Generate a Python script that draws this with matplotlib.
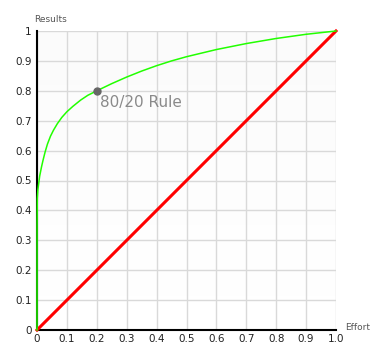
import matplotlib
matplotlib.use("Agg")
import matplotlib.pyplot as plt
import numpy as np

# green curve
effort = [0, 0.0002, 0.001, 0.003, 0.009, 0.015, 0.02, 0.027, 0.035, 0.045, 0.055,
          0.068, 0.083, 0.1, 0.12, 0.146, 0.17, 0.2, 0.25, 0.3, 0.35, 0.4, 0.45,
          0.5, 0.6, 0.7, 0.8, 0.9, 1.0]
results = [0, 0.35, 0.44, 0.47, 0.515, 0.545, 0.567, 0.595, 0.622, 0.648, 0.668,
           0.69, 0.711, 0.73, 0.748, 0.769, 0.785, 0.80, 0.824, 0.846, 0.866, 0.884, 0.90,
           0.914, 0.938, 0.958, 0.975, 0.989, 1.0]
# red diagonal
line_x = [0, 1.0]
line_y = [0, 1.0]
rule_x, rule_y = 0.2, 0.8

x_ticks = [0, 0.1, 0.2, 0.3, 0.4, 0.5, 0.6, 0.7, 0.8, 0.9, 1.0]
x_labels = ["0", "0.1", "0.2", "0.3", "0.4", "0.5", "0.6", "0.7", "0.8", "0.9", "1.0"]
y_ticks = [0, 0.1, 0.2, 0.3, 0.4, 0.5, 0.6, 0.7, 0.8, 0.9, 1.0]
y_labels = ["0", "0.1", "0.2", "0.3", "0.4", "0.5", "0.6", "0.7", "0.8", "0.9", "1"]

fig = plt.figure(figsize=(3.78, 3.64), dpi=100)
ax = fig.add_axes([37 / 378, 34 / 364, 299 / 378, 299 / 364])
ax.set_xlim(0, 1)
ax.set_ylim(0, 1)

# background gradient, light gray at top to white at bottom
grad = np.linspace(1.0, 0.0, 256).reshape(-1, 1)
ax.imshow(grad, extent=[0, 1, 0, 1], aspect="auto", cmap="Greys",
          vmin=0, vmax=30, origin="upper", zorder=0)

ax.set_xticks(x_ticks)
ax.set_xticklabels(x_labels)
ax.set_yticks(y_ticks)
ax.set_yticklabels(y_labels)
ax.tick_params(length=0, labelsize=7.5, colors="#222222")
ax.tick_params(axis="x", pad=3)
ax.tick_params(axis="y", pad=4)
ax.grid(True, color="#d9d9d9", linewidth=1)
ax.set_axisbelow(True)

for s in ["top", "right"]:
    ax.spines[s].set_visible(False)
for s in ["left", "bottom"]:
    ax.spines[s].set_color("black")
    ax.spines[s].set_linewidth(1.5)

ax.plot(line_x, line_y, color="#ff0000", linewidth=2.2, zorder=3, clip_on=False)
ax.plot(effort, results, color="#22ff00", linewidth=1.1, zorder=4, clip_on=False,
        solid_joinstyle="round")
ax.plot([rule_x], [rule_y], "o", color="#666666", markersize=5, zorder=5)
ax.text(rule_x + 0.01, rule_y - 0.015, "80/20 Rule", color="#8a8a8a", fontsize=11,
        va="top", ha="left", zorder=6)

fig.text(34 / 378, 1 - 20 / 364, "Results", color="#555555", fontsize=6.5,
         ha="left", va="center")
fig.text(345 / 378, 1 - 328 / 364, "Effort", color="#555555", fontsize=6.5,
         ha="left", va="center")

fig.savefig("out.png", dpi=100)
